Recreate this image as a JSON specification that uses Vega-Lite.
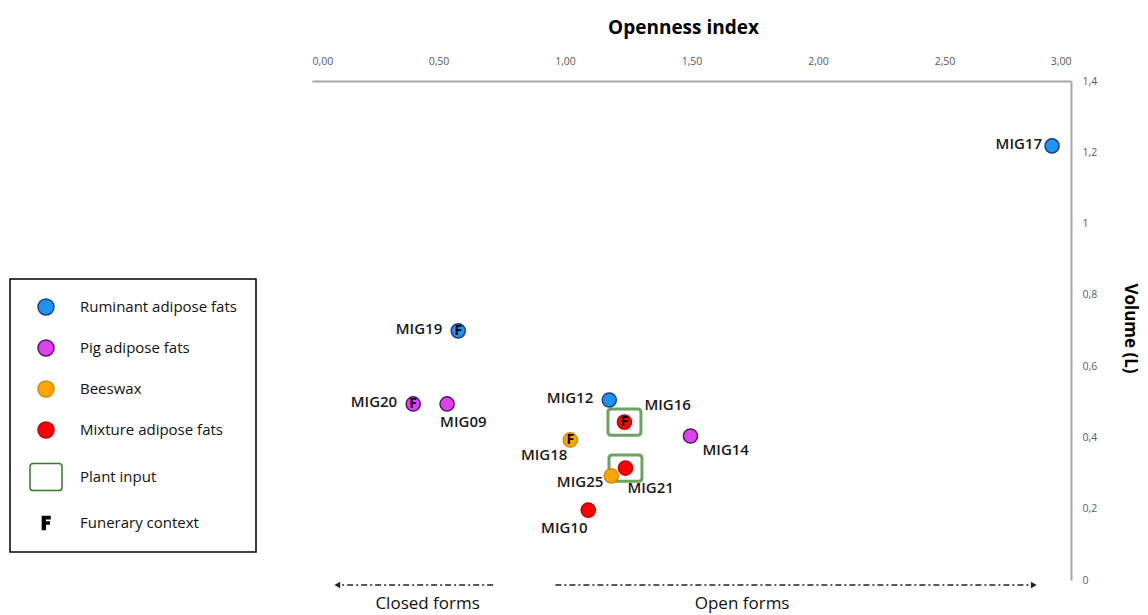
{
  "$schema": "https://vega.github.io/schema/vega-lite/v6.json",
  "width": 759,
  "height": 499,
  "autosize": {"type": "none"},
  "padding": {"left": 312, "top": 81, "right": 77, "bottom": 35},
  "background": "white",
  "config": {
    "locale": {"number": {"decimal": ",", "thousands": ".", "grouping": [3], "currency": ["", " €"]}},
    "view": {"stroke": null},
    "font": "Open Sans",
    "axis": {
      "grid": false,
      "ticks": false,
      "domainColor": "#A6A6A6",
      "domainWidth": 2,
      "labelColor": "#595959",
      "labelFontSize": 10.5,
      "labelFont": "Open Sans",
      "titleFont": "Open Sans",
      "titleColor": "#000000",
      "titleFontWeight": "bold",
      "titleFontSize": 18
    },
    "legend": {
      "strokeWidth": 1.5
    }
  },
  "datasets": {
    "samples": [
      {"id": "MIG17", "openness": 2.925, "volume": 1.218, "type": "Ruminant adipose fats", "plant": false, "funerary": false},
      {"id": "MIG19", "openness": 0.578, "volume": 0.699, "type": "Ruminant adipose fats", "plant": false, "funerary": true},
      {"id": "MIG20", "openness": 0.4, "volume": 0.494, "type": "Pig adipose fats", "plant": false, "funerary": true},
      {"id": "MIG09", "openness": 0.534, "volume": 0.494, "type": "Pig adipose fats", "plant": false, "funerary": false},
      {"id": "MIG12", "openness": 1.175, "volume": 0.505, "type": "Ruminant adipose fats", "plant": false, "funerary": false},
      {"id": "MIG16", "openness": 1.235, "volume": 0.443, "type": "Mixture adipose fats", "plant": true, "funerary": true},
      {"id": "MIG18", "openness": 1.021, "volume": 0.393, "type": "Beeswax", "plant": false, "funerary": true},
      {"id": "MIG14", "openness": 1.496, "volume": 0.404, "type": "Pig adipose fats", "plant": false, "funerary": false},
      {"id": "MIG21", "openness": 1.239, "volume": 0.314, "type": "Mixture adipose fats", "plant": true, "funerary": false},
      {"id": "MIG25", "openness": 1.183, "volume": 0.292, "type": "Beeswax", "plant": false, "funerary": false},
      {"id": "MIG10", "openness": 1.092, "volume": 0.196, "type": "Mixture adipose fats", "plant": false, "funerary": false}
    ],
    "arrows": [
      {"form": "Closed forms", "start": 0.716, "end": 0.1, "mid": 0.457},
      {"form": "Open forms", "start": 0.962, "end": 2.853, "mid": 1.7}
    ]
  },
  "layer": [
    {
      "data": {"name": "samples"},
      "transform": [{"filter": "datum.plant"}],
      "mark": {"type": "point", "filled": false, "size": 272, "stroke": "#2F7D1F", "strokeWidth": 3,
        "shape": "M-1.6,-1.6 H1.6 Q2,-1.6 2,-1.2 V1.2 Q2,1.6 1.6,1.6 H-1.6 Q-2,1.6 -2,1.2 V-1.2 Q-2,-1.6 -1.6,-1.6 Z"},
      "encoding": {
        "x": {"field": "openness", "type": "quantitative", "scale": {"domain": [0, 3], "nice": false, "zero": false}},
        "y": {"field": "volume", "type": "quantitative", "scale": {"domain": [0, 1.4], "nice": false}}
      }
    },
    {
      "data": {"name": "samples"},
      "mark": {"type": "point", "filled": true, "size": 200, "strokeWidth": 1.5, "opacity": 1},
      "encoding": {
        "x": {
          "field": "openness", "type": "quantitative",
          "scale": {"domain": [0, 3], "nice": false, "zero": false},
          "axis": {"orient": "top", "title": "Openness index", "format": ".2f", "values": [0, 0.5, 1, 1.5, 2, 2.5, 3], "labelPadding": 15, "titlePadding": 19, "titleX": 371, "titleFontSize": 19}
        },
        "y": {
          "field": "volume", "type": "quantitative",
          "scale": {"domain": [0, 1.4], "nice": false},
          "axis": {"orient": "right", "title": "Volume (L)", "format": ".1~f", "values": [0, 0.2, 0.4, 0.6, 0.8, 1, 1.2, 1.4], "labelPadding": 11, "titlePadding": 24, "titleFontSize": 17, "titleY": 247}
        },
        "fill": {
          "field": "type", "type": "nominal",
          "scale": {
            "domain": ["Ruminant adipose fats", "Pig adipose fats", "Beeswax", "Mixture adipose fats", "Plant input", "Funerary context"],
            "range": ["#1C95F2", "#E040F0", "#FFA500", "#FF0000", "transparent", "#000000"]
          },
          "legend": {
            "orient": "none", "legendX": -302, "legendY": 198, "title": null,
            "strokeColor": "#000000", "padding": 19, "rowPadding": 19, "symbolSize": 256,
            "symbolOffset": 8, "labelOffset": 25, "labelFontSize": 15, "labelFont": "Open Sans",
            "labelColor": "#111111", "symbolStrokeWidth": 1.5,
            "encode": {"symbols": {"update": {"strokeWidth": {"signal": "datum.value === 'Plant input' ? 2.5 : (datum.value === 'Funerary context' ? 0.5 : 1.5)"}}}}
          }
        },
        "stroke": {
          "field": "type", "type": "nominal",
          "scale": {
            "domain": ["Ruminant adipose fats", "Pig adipose fats", "Beeswax", "Mixture adipose fats", "Plant input", "Funerary context"],
            "range": ["#1F3C88", "#4B1A6B", "#D08A00", "#C80000", "#2F7D1F", "#000000"]
          },
          "legend": {
            "orient": "none", "legendX": -302, "legendY": 198, "title": null,
            "strokeColor": "#000000", "padding": 19, "rowPadding": 19, "symbolSize": 256,
            "symbolOffset": 8, "labelOffset": 25, "labelFontSize": 15, "labelFont": "Open Sans",
            "labelColor": "#111111", "symbolStrokeWidth": 1.5
          }
        },
        "shape": {
          "field": "type", "type": "nominal",
          "scale": {
            "domain": ["Ruminant adipose fats", "Pig adipose fats", "Beeswax", "Mixture adipose fats", "Plant input", "Funerary context"],
            "range": ["circle", "circle", "circle", "circle",
              "M-1.6,-1.7 H1.6 Q2,-1.7 2,-1.3 V1.3 Q2,1.7 1.6,1.7 H-1.6 Q-2,1.7 -2,1.3 V-1.3 Q-2,-1.7 -1.6,-1.7 Z",
              "M-0.45,-0.8 H0.5 V-0.52 H-0.1 V-0.12 H0.4 V0.14 H-0.1 V0.8 H-0.45 Z"]
          },
          "legend": {
            "orient": "none", "legendX": -302, "legendY": 198, "title": null,
            "strokeColor": "#000000", "padding": 19, "rowPadding": 19, "symbolSize": 256,
            "symbolOffset": 8, "labelOffset": 25, "labelFontSize": 15, "labelFont": "Open Sans",
            "labelColor": "#111111", "symbolStrokeWidth": 1.5
          }
        }
      }
    },
    {
      "data": {"name": "samples"},
      "transform": [{"filter": "datum.funerary"}],
      "mark": {"type": "text", "text": "F", "fontWeight": "bold", "fontSize": 14, "color": "#000000", "align": "center", "baseline": "middle", "font": "Open Sans"},
      "encoding": {
        "x": {"field": "openness", "type": "quantitative", "scale": {"domain": [0, 3], "nice": false, "zero": false}},
        "y": {"field": "volume", "type": "quantitative", "scale": {"domain": [0, 1.4], "nice": false}}
      }
    },
    {
      "data": {"name": "samples"},
      "transform": [{"filter": {"field": "id", "oneOf": ["MIG19", "MIG20", "MIG12"]}}],
      "mark": {"type": "text", "align": "right", "baseline": "middle", "dx": -16, "dy": -2, "fontSize": 15, "font": "Open Sans", "fontWeight": 600, "color": "#1A1A1A"},
      "encoding": {
        "x": {"field": "openness", "type": "quantitative", "scale": {"domain": [0, 3], "nice": false, "zero": false}},
        "y": {"field": "volume", "type": "quantitative", "scale": {"domain": [0, 1.4], "nice": false}},
        "text": {"field": "id"}
      }
    },
    {
      "data": {"name": "samples"},
      "transform": [{"filter": {"field": "id", "oneOf": ["MIG17"]}}],
      "mark": {"type": "text", "align": "right", "baseline": "middle", "dx": -10, "dy": -2, "fontSize": 15, "font": "Open Sans", "fontWeight": 600, "color": "#1A1A1A"},
      "encoding": {
        "x": {"field": "openness", "type": "quantitative", "scale": {"domain": [0, 3], "nice": false, "zero": false}},
        "y": {"field": "volume", "type": "quantitative", "scale": {"domain": [0, 1.4], "nice": false}},
        "text": {"field": "id"}
      }
    },
    {
      "data": {"name": "samples"},
      "transform": [{"filter": {"field": "id", "oneOf": ["MIG25"]}}],
      "mark": {"type": "text", "align": "right", "baseline": "middle", "dx": -8, "dy": 6, "fontSize": 15, "font": "Open Sans", "fontWeight": 600, "color": "#1A1A1A"},
      "encoding": {
        "x": {"field": "openness", "type": "quantitative", "scale": {"domain": [0, 3], "nice": false, "zero": false}},
        "y": {"field": "volume", "type": "quantitative", "scale": {"domain": [0, 1.4], "nice": false}},
        "text": {"field": "id"}
      }
    },
    {
      "data": {"name": "samples"},
      "transform": [{"filter": {"field": "id", "oneOf": ["MIG18"]}}],
      "mark": {"type": "text", "align": "right", "baseline": "middle", "dx": -3, "dy": 15, "fontSize": 15, "font": "Open Sans", "fontWeight": 600, "color": "#1A1A1A"},
      "encoding": {
        "x": {"field": "openness", "type": "quantitative", "scale": {"domain": [0, 3], "nice": false, "zero": false}},
        "y": {"field": "volume", "type": "quantitative", "scale": {"domain": [0, 1.4], "nice": false}},
        "text": {"field": "id"}
      }
    },
    {
      "data": {"name": "samples"},
      "transform": [{"filter": {"field": "id", "oneOf": ["MIG09"]}}],
      "mark": {"type": "text", "align": "left", "baseline": "middle", "dx": -7, "dy": 18, "fontSize": 15, "font": "Open Sans", "fontWeight": 600, "color": "#1A1A1A"},
      "encoding": {
        "x": {"field": "openness", "type": "quantitative", "scale": {"domain": [0, 3], "nice": false, "zero": false}},
        "y": {"field": "volume", "type": "quantitative", "scale": {"domain": [0, 1.4], "nice": false}},
        "text": {"field": "id"}
      }
    },
    {
      "data": {"name": "samples"},
      "transform": [{"filter": {"field": "id", "oneOf": ["MIG16"]}}],
      "mark": {"type": "text", "align": "left", "baseline": "middle", "dx": 20, "dy": -17, "fontSize": 15, "font": "Open Sans", "fontWeight": 600, "color": "#1A1A1A"},
      "encoding": {
        "x": {"field": "openness", "type": "quantitative", "scale": {"domain": [0, 3], "nice": false, "zero": false}},
        "y": {"field": "volume", "type": "quantitative", "scale": {"domain": [0, 1.4], "nice": false}},
        "text": {"field": "id"}
      }
    },
    {
      "data": {"name": "samples"},
      "transform": [{"filter": {"field": "id", "oneOf": ["MIG14"]}}],
      "mark": {"type": "text", "align": "left", "baseline": "middle", "dx": 12, "dy": 14, "fontSize": 15, "font": "Open Sans", "fontWeight": 600, "color": "#1A1A1A"},
      "encoding": {
        "x": {"field": "openness", "type": "quantitative", "scale": {"domain": [0, 3], "nice": false, "zero": false}},
        "y": {"field": "volume", "type": "quantitative", "scale": {"domain": [0, 1.4], "nice": false}},
        "text": {"field": "id"}
      }
    },
    {
      "data": {"name": "samples"},
      "transform": [{"filter": {"field": "id", "oneOf": ["MIG21"]}}],
      "mark": {"type": "text", "align": "left", "baseline": "middle", "dx": 2, "dy": 20, "fontSize": 15, "font": "Open Sans", "fontWeight": 600, "color": "#1A1A1A"},
      "encoding": {
        "x": {"field": "openness", "type": "quantitative", "scale": {"domain": [0, 3], "nice": false, "zero": false}},
        "y": {"field": "volume", "type": "quantitative", "scale": {"domain": [0, 1.4], "nice": false}},
        "text": {"field": "id"}
      }
    },
    {
      "data": {"name": "samples"},
      "transform": [{"filter": {"field": "id", "oneOf": ["MIG10"]}}],
      "mark": {"type": "text", "align": "center", "baseline": "middle", "dx": -24, "dy": 18, "fontSize": 15, "font": "Open Sans", "fontWeight": 600, "color": "#1A1A1A"},
      "encoding": {
        "x": {"field": "openness", "type": "quantitative", "scale": {"domain": [0, 3], "nice": false, "zero": false}},
        "y": {"field": "volume", "type": "quantitative", "scale": {"domain": [0, 1.4], "nice": false}},
        "text": {"field": "id"}
      }
    },
    {
      "data": {"name": "arrows"},
      "mark": {"type": "rule", "strokeDash": [6, 3, 2, 3], "strokeWidth": 1.5, "color": "#222222"},
      "encoding": {
        "x": {"field": "start", "type": "quantitative", "scale": {"domain": [0, 3], "nice": false, "zero": false}},
        "x2": {"field": "end"},
        "y": {"datum": -0.014, "type": "quantitative", "scale": {"domain": [0, 1.4], "nice": false}}
      }
    },
    {
      "data": {"name": "arrows"},
      "transform": [{"filter": "datum.form === 'Closed forms'"}],
      "mark": {"type": "point", "shape": "triangle-left", "filled": true, "size": 45, "color": "#222222", "opacity": 1},
      "encoding": {
        "x": {"field": "end", "type": "quantitative", "scale": {"domain": [0, 3], "nice": false, "zero": false}},
        "y": {"datum": -0.014, "type": "quantitative", "scale": {"domain": [0, 1.4], "nice": false}}
      }
    },
    {
      "data": {"name": "arrows"},
      "transform": [{"filter": "datum.form === 'Open forms'"}],
      "mark": {"type": "point", "shape": "triangle-right", "filled": true, "size": 45, "color": "#222222", "opacity": 1},
      "encoding": {
        "x": {"field": "end", "type": "quantitative", "scale": {"domain": [0, 3], "nice": false, "zero": false}},
        "y": {"datum": -0.014, "type": "quantitative", "scale": {"domain": [0, 1.4], "nice": false}}
      }
    },
    {
      "data": {"name": "arrows"},
      "mark": {"type": "text", "align": "center", "baseline": "middle", "fontSize": 17, "font": "Open Sans", "color": "#111111"},
      "encoding": {
        "x": {"field": "mid", "type": "quantitative", "scale": {"domain": [0, 3], "nice": false, "zero": false}},
        "y": {"datum": -0.066, "type": "quantitative", "scale": {"domain": [0, 1.4], "nice": false}},
        "text": {"field": "form"}
      }
    }
  ]
}
